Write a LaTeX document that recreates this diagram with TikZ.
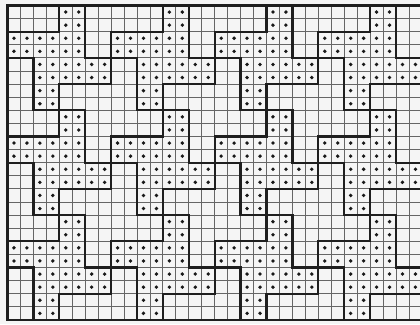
\documentclass[tikz,border=0pt]{standalone}
\begin{document}
\begin{tikzpicture}[x=1pt,y=1pt,
  gridline/.style={line width=0.85pt, draw=black!60},
  outline/.style={line width=2.3pt, draw=black!88, line join=miter},
  stitch/.style={fill=black!90}]
\useasboundingbox (0,0) rectangle (420,324);
\clip (0,0) rectangle (420,324);
\fill[white!96!black] (0,0) rectangle (420,324);
\begin{scope}[shift={(7.5,318.5)}, x=12.95pt, y=-13.1pt]
  % thin grid
  \foreach \i in {0,...,32} \draw[gridline] (\i,0) -- (\i,24);
  \foreach \j in {0,...,24} \draw[gridline] (0,\j) -- (32,\j);
  % dots
  \foreach \dx in {0,8,16,24}{
    \foreach \dy in {0,8,16}{
      \foreach \r/\a/\b in {0/4/5,1/4/5,2/0/5,3/0/5,4/2/7,5/2/7,6/2/3,7/2/3}{
        \foreach \c in {\a,...,\b}{
          \fill[stitch] (\c+\dx+0.5,\r+\dy+0.5) circle (1.9pt);
        }
      }
    }
  }
  % motif outlines
  \begin{scope}
    \clip (0,0) rectangle (32,24);
    \foreach \dx in {-8,0,8,16,24,32}{
      \foreach \dy in {-8,0,8,16}{
        \draw[outline, shift={(\dx,\dy)}]
          (4,0) -- (6,0) -- (6,4) -- (8,4) -- (8,6) -- (4,6) -- (4,8)
          -- (2,8) -- (2,4) -- (0,4) -- (0,2) -- (4,2) -- cycle;
      }
    }
  \end{scope}
  % border
  \draw[outline] (0,0) rectangle (32,24);
\end{scope}
\end{tikzpicture}
\end{document}
